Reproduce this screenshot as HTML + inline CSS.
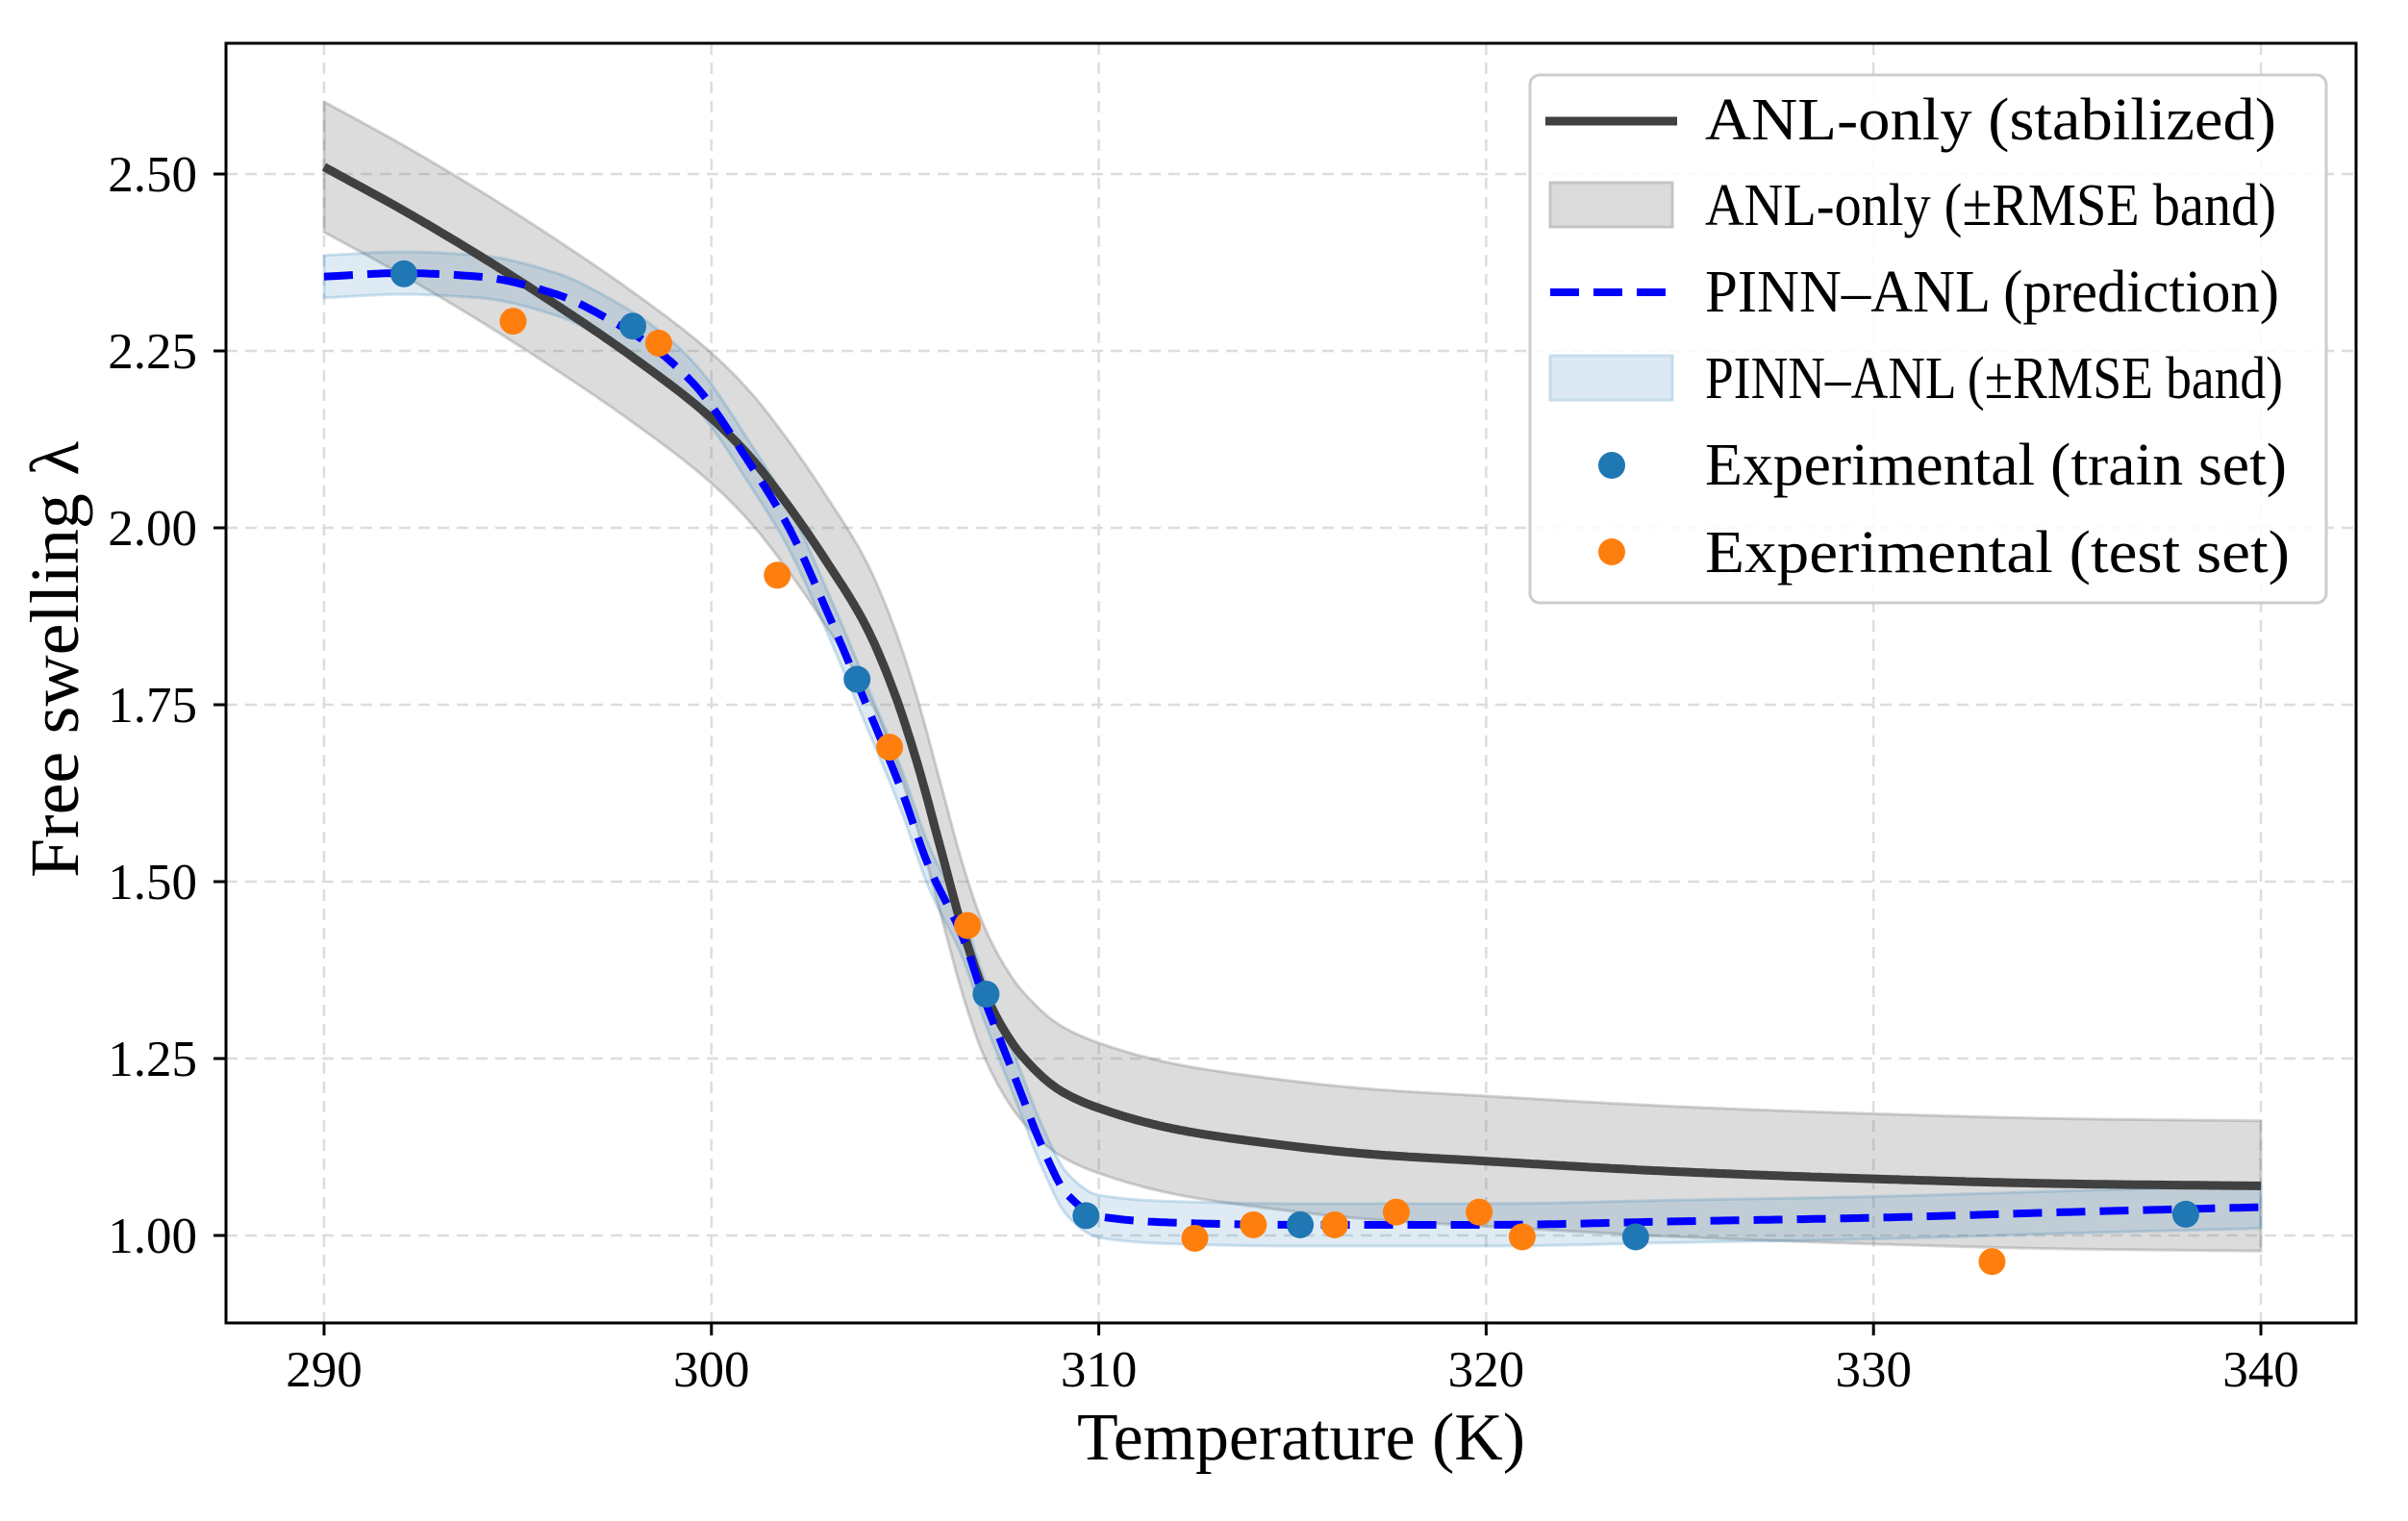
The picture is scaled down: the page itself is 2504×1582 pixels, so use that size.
<!DOCTYPE html>
<html><head><meta charset="utf-8"><style>
html,body{margin:0;padding:0;background:#fff;}
svg{display:block;font-family:"Liberation Serif",serif;}
</style></head><body>
<svg id="chart" width="2504" height="1582" viewBox="0 0 2504 1582" xmlns="http://www.w3.org/2000/svg">
<rect width="2504" height="1582" fill="#fff"/>
<g id="grid"></g>
<g id="plot"></g>
<rect x="235" y="45" width="2215" height="1331" fill="none" stroke="#000" stroke-width="3"/>
<g id="ticks"></g>
<text x="1353" y="1518" font-size="70" text-anchor="middle" textLength="466" lengthAdjust="spacingAndGlyphs">Temperature (K)</text>
<text transform="translate(81,686) rotate(-90)" font-size="72" text-anchor="middle" textLength="454" lengthAdjust="spacingAndGlyphs">Free swelling λ</text>
<g>
<rect x="1591" y="78" width="828" height="549" rx="10" fill="#fff" fill-opacity="0.85" stroke="#cccccc" stroke-width="3"/>
<g>
<line x1="1607" y1="126" x2="1744" y2="126" stroke="#404040" stroke-width="9"/>
<text x="1773" y="145" font-size="62" textLength="594" lengthAdjust="spacingAndGlyphs">ANL-only (stabilized)</text></g>
<g>
<rect x="1612" y="190" width="127" height="46" fill="#dbdbdb" stroke="#c4c4c4" stroke-width="3"/>
<text x="1773" y="234" font-size="62" textLength="594" lengthAdjust="spacingAndGlyphs">ANL-only (±RMSE band)</text></g>
<g>
<line x1="1612" y1="304" x2="1739" y2="304" stroke="#0000ff" stroke-width="8" stroke-dasharray="30,15"/>
<text x="1773" y="324" font-size="62" textLength="597" lengthAdjust="spacingAndGlyphs">PINN–ANL (prediction)</text></g>
<g>
<rect x="1612" y="370" width="127" height="46" fill="#dce9f4" stroke="#c6dced" stroke-width="3"/>
<text x="1773" y="414" font-size="62" textLength="601" lengthAdjust="spacingAndGlyphs">PINN–ANL (±RMSE band)</text></g>
<g>
<circle cx="1676" cy="484" r="14" fill="#1f77b4"/>
<text x="1773" y="504" font-size="62" textLength="605" lengthAdjust="spacingAndGlyphs">Experimental (train set)</text></g>
<g>
<circle cx="1676" cy="574" r="14" fill="#ff7f0e"/>
<text x="1773" y="595" font-size="62" textLength="608" lengthAdjust="spacingAndGlyphs">Experimental (test set)</text></g>
</g>
</svg>
<script>
const xTicks = [290, 300, 310, 320, 330, 340];
const yTicks = [1.00, 1.25, 1.50, 1.75, 2.00, 2.25, 2.50];
const anlT = [290,292,294,296,298,300,301,302,303,304,304.7,305.3,305.9,306.5,307,307.5,308,309,310,312,314,317,320,325,330,335,340];
const anlV = [2.51,2.45,2.385,2.315,2.24,2.155,2.10,2.03,1.95,1.86,1.77,1.67,1.55,1.43,1.35,1.295,1.255,1.205,1.18,1.15,1.133,1.115,1.105,1.09,1.08,1.073,1.07];
const anlRmse = [0.092];
const pinnT = [290,292,294,296,297.5,298.5,299.6,301,302,303,304,304.9,305.6,306.5,307,307.5,308,308.5,309.2,310,312,315,320,325,330,335,340];
const pinnV = [2.355,2.36,2.355,2.33,2.29,2.255,2.20,2.09,2.00,1.88,1.75,1.63,1.523,1.42,1.34,1.27,1.20,1.13,1.057,1.027,1.018,1.015,1.015,1.02,1.025,1.033,1.04];
const pinnRmse = [0.03];
const trainT = [292.06,297.97,303.76,307.09,309.67,315.2,323.86,338.06];
const trainV = [2.359,2.285,1.786,1.341,1.028,1.015,0.998,1.030];
const testT = [294.88,298.64,301.70,304.6,306.61,312.48,313.99,316.09,317.68,319.82,320.93,333.06];
const testV = [2.292,2.261,1.933,1.690,1.438,0.996,1.015,1.015,1.033,1.033,0.998,0.963];

const NS = 'http://www.w3.org/2000/svg';
function xs(t){ return 337 + (t - 290) * 40.28; }
function ys(v){ return 1285 - (v - 1) * 736; }
function mk(tag, attrs, parent){ const e = document.createElementNS(NS, tag); for (const k in attrs) e.setAttribute(k, attrs[k]); parent.appendChild(e); return e; }
// monotone cubic (Fritsch-Carlson) interpolation sampled densely
function sample(T, V){
  const n = T.length, d = [], m = [];
  for (let i=0;i<n-1;i++) d.push((V[i+1]-V[i])/(T[i+1]-T[i]));
  m[0]=d[0]; m[n-1]=d[n-2];
  for (let i=1;i<n-1;i++){
    if (d[i-1]*d[i]<=0) m[i]=0;
    else { const h0=T[i]-T[i-1], h1=T[i+1]-T[i]; const w1=2*h1+h0, w2=h1+2*h0; m[i]=(w1+w2)/(w1/d[i-1]+w2/d[i]); }
  }
  const out=[];
  for (let i=0;i<n-1;i++){
    const h=T[i+1]-T[i]; const steps=Math.max(4,Math.ceil(h/0.1));
    for (let s=0;s<steps;s++){
      const u=s/steps, h00=2*u*u*u-3*u*u+1, h10=u*u*u-2*u*u+u, h01=-2*u*u*u+3*u*u, h11=u*u*u-u*u;
      out.push([T[i]+u*h, h00*V[i]+h10*h*m[i]+h01*V[i+1]+h11*h*m[i+1]]);
    }
  }
  out.push([T[n-1],V[n-1]]);
  return out;
}
function linePath(S, off){ return S.map((p,i)=>(i?'L':'M')+xs(p[0]).toFixed(1)+','+ys(p[1]+off).toFixed(1)).join(''); }
function bandPath(S, r){
  const up = linePath(S, r);
  const lo = S.slice().reverse().map(p=>'L'+xs(p[0]).toFixed(1)+','+ys(p[1]-r).toFixed(1)).join('');
  return up + lo + 'Z';
}
const grid = document.getElementById('grid');
const ticks = document.getElementById('ticks');
const plot = document.getElementById('plot');
xTicks.forEach(t=>{
  const g = mk('line',{x1:xs(t),x2:xs(t),y1:45,y2:1376,stroke:'#dddddd','stroke-width':2.5,'stroke-dasharray':'12,8'},grid);
  
  
  const tk = mk('line',{x1:xs(t),x2:xs(t),y1:1376,y2:1389,stroke:'#000','stroke-width':3},ticks);
  
  
  const lb = mk('text',{x:xs(t),y:1442,'font-size':53,'text-anchor':'middle'},ticks);
  lb.textContent = String(t);
  
  
});
yTicks.forEach(v=>{
  const g = mk('line',{x1:235,x2:2450,y1:ys(v),y2:ys(v),stroke:'#dddddd','stroke-width':2.5,'stroke-dasharray':'12,8'},grid);
  
  
  const tk = mk('line',{x1:222,x2:235,y1:ys(v),y2:ys(v),stroke:'#000','stroke-width':3},ticks);
  
  
  const lb = mk('text',{x:205,y:ys(v)+18,'font-size':53,'text-anchor':'end'},ticks);
  lb.textContent = v.toFixed(2);
  
  
});
const anlS = sample(anlT, anlV);
const pinnS = sample(pinnT, pinnV);
const ab = mk('path',{d:bandPath(anlS,anlRmse[0]),fill:'rgba(128,128,128,0.28)',stroke:'rgba(128,128,128,0.35)','stroke-width':3,'stroke-linejoin':'round'},plot);


const pb = mk('path',{d:bandPath(pinnS,pinnRmse[0]),fill:'rgba(31,119,180,0.15)',stroke:'rgba(31,119,180,0.2)','stroke-width':3,'stroke-linejoin':'round'},plot);


const al = mk('path',{d:linePath(anlS,0),fill:'none',stroke:'#404040','stroke-width':9,'stroke-linejoin':'round'},plot);


const pl = mk('path',{d:linePath(pinnS,0),fill:'none',stroke:'#0000ff','stroke-width':8,'stroke-dasharray':'30,15'},plot);


trainT.forEach((t,i)=>{
  const c = mk('circle',{cx:xs(t),cy:ys(trainV[i]),r:14,fill:'#1f77b4'},plot);
  
  
});
testT.forEach((t,i)=>{
  const c = mk('circle',{cx:xs(t),cy:ys(testV[i]),r:14,fill:'#ff7f0e'},plot);
  
  
});
</script>
</body></html>
